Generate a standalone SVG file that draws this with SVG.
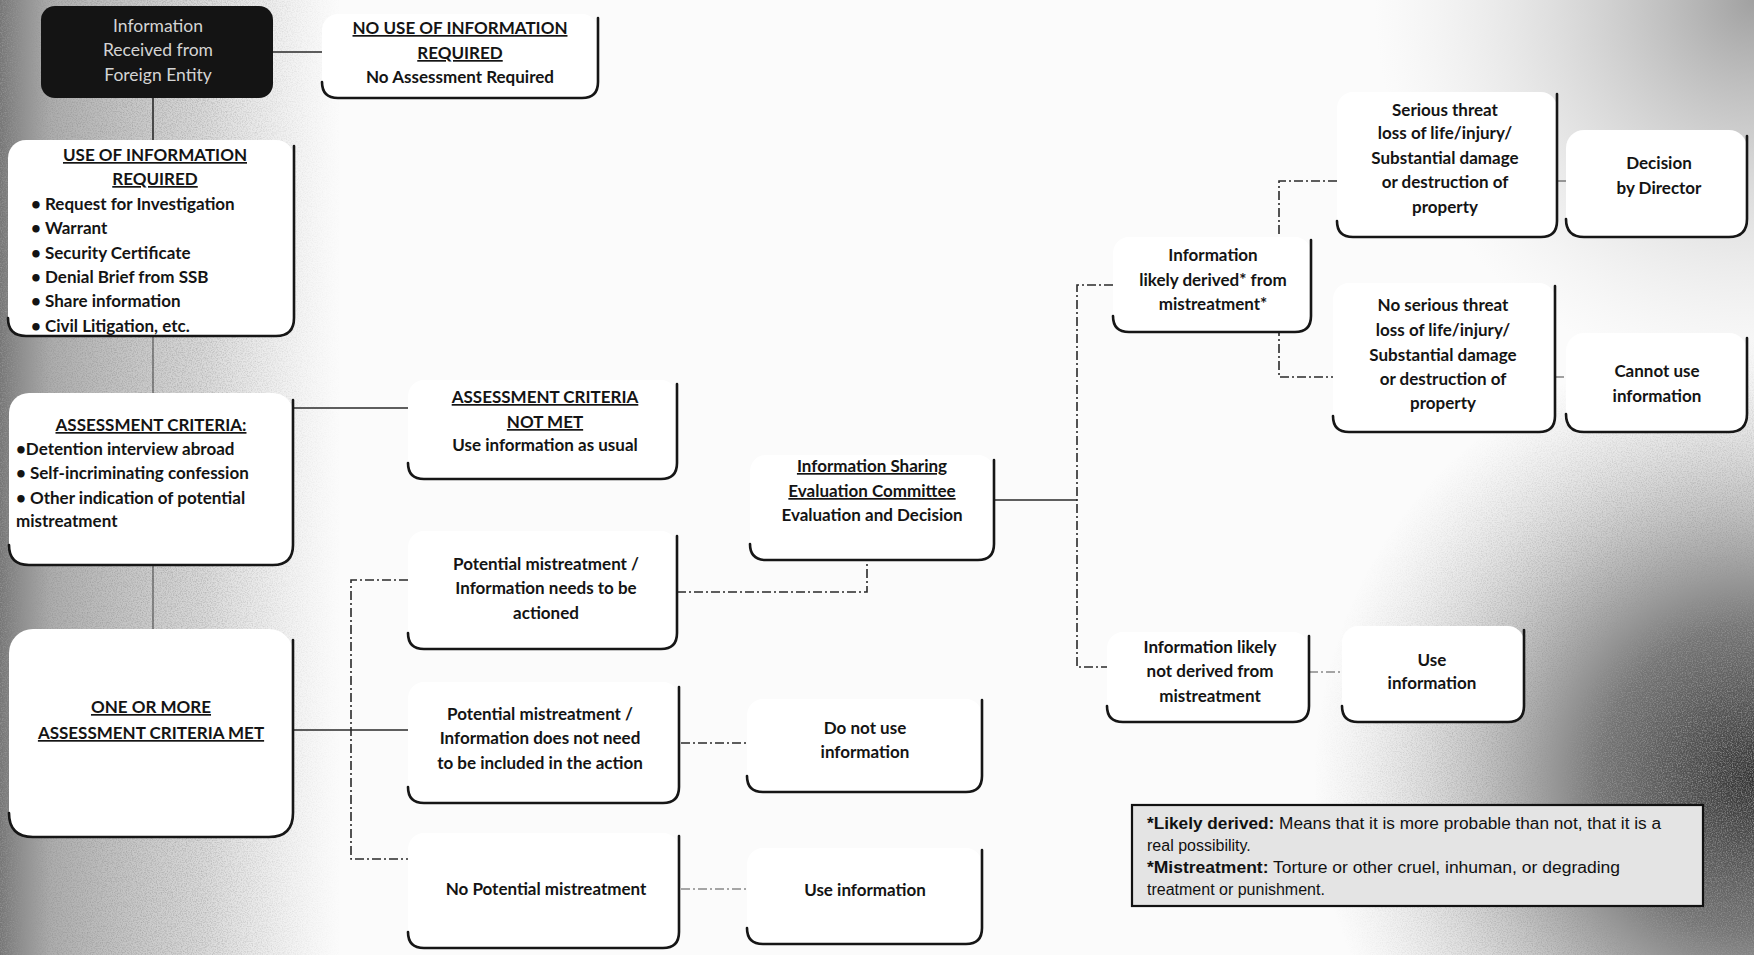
<svg xmlns="http://www.w3.org/2000/svg" width="1754" height="955" viewBox="0 0 1754 955">
<defs>
<linearGradient id="gl" x1="0" y1="0" x2="1" y2="0">
<stop offset="0" stop-color="#6e6e6e" stop-opacity="0.95"/>
<stop offset="0.15" stop-color="#999" stop-opacity="0.8"/>
<stop offset="0.6" stop-color="#bdbdbd" stop-opacity="0.55"/>
<stop offset="1" stop-color="#d8d8d8" stop-opacity="0"/>
</linearGradient>
<radialGradient id="gr" cx="1754" cy="780" r="440" gradientUnits="userSpaceOnUse">
<stop offset="0" stop-color="#333"/>
<stop offset="0.35" stop-color="#666" stop-opacity="0.9"/>
<stop offset="0.7" stop-color="#a5a5a5" stop-opacity="0.45"/>
<stop offset="1" stop-color="#d0d0d0" stop-opacity="0"/>
</radialGradient>
<radialGradient id="gt" cx="1754" cy="0" r="380" gradientUnits="userSpaceOnUse">
<stop offset="0" stop-color="#8a8a8a" stop-opacity="0.8"/>
<stop offset="1" stop-color="#d0d0d0" stop-opacity="0"/>
</radialGradient>
<filter id="noise" x="0" y="0" width="100%" height="100%">
<feTurbulence type="fractalNoise" baseFrequency="0.8" numOctaves="2" seed="3" result="n"/>
<feColorMatrix in="n" type="matrix" values="0 0 0 0 0.3  0 0 0 0 0.3  0 0 0 0 0.3  0 0 0 -2 1.2" result="m"/>
<feComposite in="m" in2="SourceGraphic" operator="in"/>
</filter>
<style>
.t{font-family:Lato,"Liberation Sans",sans-serif;font-weight:bold;font-size:17px;fill:#141414;text-anchor:middle}
.l{text-anchor:start}
.u{text-decoration:underline}
.w{fill:#d4d4d4;font-weight:normal;font-size:17.5px}
.box{fill:#ffffff}
.edge{fill:none;stroke:#161616;stroke-width:2.6;stroke-linecap:round}
.c{fill:none;stroke:#2a2a2a;stroke-width:1.6}
.d{stroke-dasharray:9 3 2 3}
.f{opacity:0.55}
.fn{font-family:"Liberation Sans Narrow","Liberation Sans",sans-serif;font-size:16px;fill:#111}
</style>
</defs>
<rect width="1754" height="955" fill="#fbfbfb"/>
<rect x="0" y="0" width="340" height="955" fill="url(#gl)"/>
<rect x="1100" y="300" width="654" height="655" fill="url(#gr)"/>
<rect x="1300" y="0" width="454" height="400" fill="url(#gt)"/>
<rect x="0" y="0" width="340" height="955" fill="url(#gl)" filter="url(#noise)"/>
<rect x="1100" y="300" width="654" height="655" fill="url(#gr)" filter="url(#noise)"/>

<g id="connectors">
<path class="c" d="M273 52 H322"/>
<path class="c" d="M153 98 V140"/>
<path class="c f" d="M153 336 V393"/>
<path class="c f" d="M153 565 V629"/>
<path class="c" d="M293 408 H408"/>
<path class="c" d="M293 730 H408"/>
<path class="c d" d="M408 580 H351 V859 H408"/>
<path class="c d" d="M677 592 H867 V560"/>
<path class="c d" d="M681 743 H747"/>
<path class="c d f" d="M681 889 H747"/>
<path class="c" d="M994 500 H1077"/>
<path class="c d" d="M1113 285 H1077 V667 H1107"/>
<path class="c d" d="M1337 181 H1279 V377 H1333"/>
<path class="c d f" d="M1557 181 H1566"/>
<path class="c d f" d="M1555 377 H1566"/>
<path class="c d f" d="M1309 672 H1342"/>
</g>

<g id="n-source">
<rect x="41" y="6" width="232" height="92" rx="14" fill="#141414"/>
<text class="t w" x="158" y="32">Information</text>
<text class="t w" x="158" y="56">Received from</text>
<text class="t w" x="158" y="81">Foreign Entity</text>
</g>

<g id="n-nouse">
<rect class="box" x="322" y="14" width="276" height="84" rx="16"/>
<path class="edge" d="M598 18 V82 Q598 98 582 98 H338 Q322 98 322 82"/>
<text class="t u" x="460" y="34">NO USE OF INFORMATION</text>
<text class="t u" x="460" y="59">REQUIRED</text>
<text class="t" x="460" y="83">No Assessment Required</text>
</g>

<g id="n-use">
<rect class="box" x="8" y="140" width="286" height="196" rx="18"/>
<path class="edge" d="M294 146 V318 Q294 336 276 336 H26 Q8 336 8 318"/>
<text class="t u" x="155" y="161">USE OF INFORMATION</text>
<text class="t u" x="155" y="185">REQUIRED</text>
<text class="t l" x="31" y="210">• Request for Investigation</text>
<text class="t l" x="31" y="234">• Warrant</text>
<text class="t l" x="31" y="259">• Security Certificate</text>
<text class="t l" x="31" y="283">• Denial Brief from SSB</text>
<text class="t l" x="31" y="307">• Share information</text>
<text class="t l" x="31" y="332">• Civil Litigation, etc.</text>
</g>

<g id="n-criteria">
<rect class="box" x="9" y="393" width="284" height="172" rx="20"/>
<path class="edge" d="M293 400 V545 Q293 565 273 565 H29 Q9 565 9 545"/>
<text class="t u" x="151" y="431">ASSESSMENT CRITERIA:</text>
<text class="t l" x="16" y="455">•Detention interview abroad</text>
<text class="t l" x="16" y="479">• Self-incriminating confession</text>
<text class="t l" x="16" y="504">• Other indication of potential</text>
<text class="t l" x="16" y="527">mistreatment</text>
</g>

<g id="n-met">
<rect class="box" x="9" y="629" width="284" height="208" rx="24"/>
<path class="edge" d="M293 640 V813 Q293 837 269 837 H33 Q9 837 9 813"/>
<text class="t u" x="151" y="713">ONE OR MORE</text>
<text class="t u" x="151" y="739">ASSESSMENT CRITERIA MET</text>
</g>

<g id="n-notmet">
<rect class="box" x="408" y="380" width="269" height="99" rx="16"/>
<path class="edge" d="M677 384 V463 Q677 479 661 479 H424 Q408 479 408 463"/>
<text class="t u" x="545" y="403">ASSESSMENT CRITERIA</text>
<text class="t u" x="545" y="428">NOT  MET</text>
<text class="t" x="545" y="451">Use information as usual</text>
</g>

<g id="n-actioned">
<rect class="box" x="408" y="531" width="269" height="118" rx="16"/>
<path class="edge" d="M677 536 V633 Q677 649 661 649 H424 Q408 649 408 633"/>
<text class="t" x="546" y="570">Potential mistreatment /</text>
<text class="t" x="546" y="594">Information needs to be</text>
<text class="t" x="546" y="619">actioned</text>
</g>

<g id="n-noneed">
<rect class="box" x="408" y="682" width="271" height="121" rx="16"/>
<path class="edge" d="M679 687 V787 Q679 803 663 803 H424 Q408 803 408 787"/>
<text class="t" x="540" y="720">Potential mistreatment /</text>
<text class="t" x="540" y="744">Information does not need</text>
<text class="t" x="540" y="769">to be included in the action</text>
</g>

<g id="n-nopot">
<rect class="box" x="408" y="833" width="271" height="115" rx="16"/>
<path class="edge" d="M679 836 V932 Q679 948 663 948 H424 Q408 948 408 932"/>
<text class="t" x="546" y="895">No Potential mistreatment</text>
</g>

<g id="n-isec">
<rect class="box" x="750" y="455" width="244" height="105" rx="16"/>
<path class="edge" d="M994 460 V544 Q994 560 978 560 H766 Q750 560 750 544"/>
<text class="t u" x="872" y="472">Information Sharing</text>
<text class="t u" x="872" y="497">Evaluation Committee</text>
<text class="t" x="872" y="521">Evaluation and Decision</text>
</g>

<g id="n-donot">
<rect class="box" x="747" y="699" width="235" height="93" rx="16"/>
<path class="edge" d="M982 700 V776 Q982 792 966 792 H763 Q747 792 747 776"/>
<text class="t" x="865" y="734">Do not use</text>
<text class="t" x="865" y="758">information</text>
</g>

<g id="n-usei">
<rect class="box" x="747" y="848" width="235" height="96" rx="16"/>
<path class="edge" d="M982 850 V928 Q982 944 966 944 H763 Q747 944 747 928"/>
<text class="t" x="865" y="896">Use information</text>
</g>

<g id="n-derived">
<rect class="box" x="1113" y="237" width="198" height="95" rx="16"/>
<path class="edge" d="M1311 240 V316 Q1311 332 1295 332 H1129 Q1113 332 1113 316"/>
<text class="t" x="1213" y="261">Information</text>
<text class="t" x="1213" y="286">likely derived* from</text>
<text class="t" x="1213" y="310">mistreatment*</text>
</g>

<g id="n-serious">
<rect class="box" x="1337" y="92" width="220" height="145" rx="16"/>
<path class="edge" d="M1557 94 V221 Q1557 237 1541 237 H1353 Q1337 237 1337 221"/>
<text class="t" x="1445" y="116">Serious threat</text>
<text class="t" x="1445" y="139">loss of life/injury/</text>
<text class="t" x="1445" y="164">Substantial damage</text>
<text class="t" x="1445" y="188">or destruction  of</text>
<text class="t" x="1445" y="213">property</text>
</g>

<g id="n-director">
<rect class="box" x="1566" y="130" width="181" height="107" rx="18"/>
<path class="edge" d="M1747 136 V219 Q1747 237 1729 237 H1584 Q1566 237 1566 219"/>
<text class="t" x="1659" y="169">Decision</text>
<text class="t" x="1659" y="194">by Director</text>
</g>

<g id="n-noserious">
<rect class="box" x="1333" y="283" width="222" height="149" rx="16"/>
<path class="edge" d="M1555 286 V416 Q1555 432 1539 432 H1349 Q1333 432 1333 416"/>
<text class="t" x="1443" y="311">No serious threat</text>
<text class="t" x="1443" y="336">loss of life/injury/</text>
<text class="t" x="1443" y="361">Substantial damage</text>
<text class="t" x="1443" y="385">or destruction  of</text>
<text class="t" x="1443" y="409">property</text>
</g>

<g id="n-cannot">
<rect class="box" x="1566" y="333" width="181" height="99" rx="18"/>
<path class="edge" d="M1747 338 V414 Q1747 432 1729 432 H1584 Q1566 432 1566 414"/>
<text class="t" x="1657" y="377">Cannot use</text>
<text class="t" x="1657" y="402">information</text>
</g>

<g id="n-notderived">
<rect class="box" x="1107" y="632" width="202" height="90" rx="16"/>
<path class="edge" d="M1309 636 V706 Q1309 722 1293 722 H1123 Q1107 722 1107 706"/>
<text class="t" x="1210" y="653">Information likely</text>
<text class="t" x="1210" y="677">not derived from</text>
<text class="t" x="1210" y="702">mistreatment</text>
</g>

<g id="n-usei2">
<rect class="box" x="1342" y="626" width="182" height="96" rx="16"/>
<path class="edge" d="M1524 630 V706 Q1524 722 1508 722 H1358 Q1342 722 1342 706"/>
<text class="t" x="1432" y="666">Use</text>
<text class="t" x="1432" y="689">information</text>
</g>

<g id="n-footnote">
<rect x="1132" y="805" width="571" height="101" fill="#e4e4e4" stroke="#111" stroke-width="2.2"/>
<text class="fn" x="1147" y="829" textLength="514" lengthAdjust="spacingAndGlyphs"><tspan font-weight="bold">*Likely derived:</tspan>  Means that it is more probable than not, that it is a</text>
<text class="fn" x="1147" y="851">real possibility.</text>
<text class="fn" x="1147" y="873" textLength="473" lengthAdjust="spacingAndGlyphs"><tspan font-weight="bold">*Mistreatment:</tspan>  Torture or other cruel, inhuman, or degrading</text>
<text class="fn" x="1147" y="895">treatment or punishment.</text>
</g>
</svg>
